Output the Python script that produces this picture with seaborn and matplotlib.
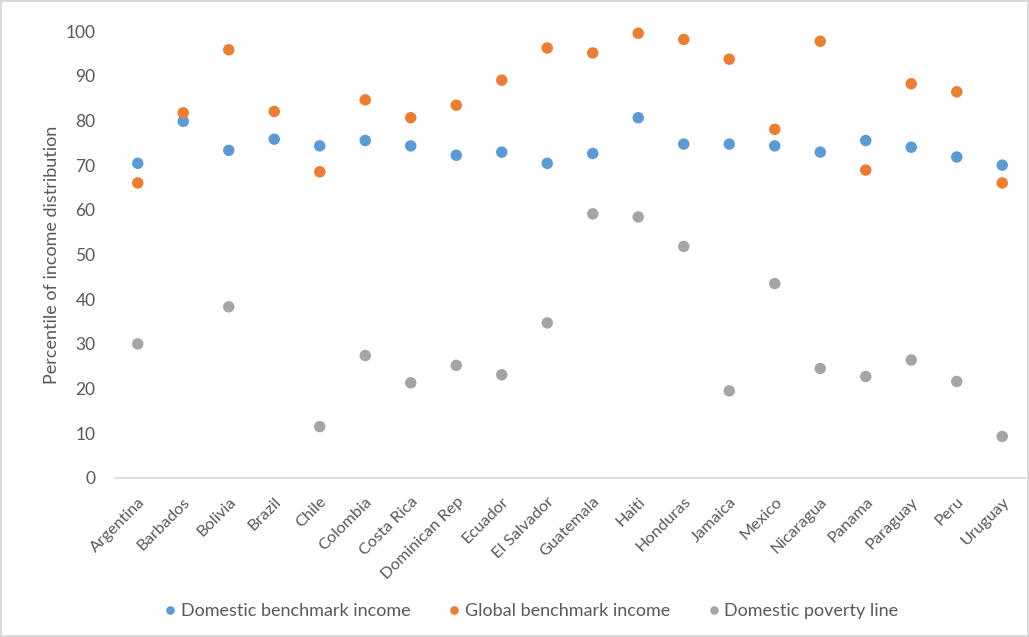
import numpy as np
import pandas as pd
import matplotlib
matplotlib.use("Agg")
import matplotlib.pyplot as plt
import seaborn as sns

countries = ["Argentina", "Barbados", "Bolivia", "Brazil", "Chile", "Colombia",
             "Costa Rica", "Dominican Rep", "Ecuador", "El Salvador", "Guatemala",
             "Haiti", "Honduras", "Jamaica", "Mexico", "Nicaragua", "Panama",
             "Paraguay", "Peru", "Uruguay"]
domestic_benchmark = [70.4, 79.8, 73.3, 75.8, 74.3, 75.5, 74.3, 72.2, 72.9, 70.4,
                      72.6, 80.6, 74.7, 74.7, 74.3, 72.9, 75.5, 74.0, 71.8, 70.0]
global_benchmark = [66.0, 81.7, 95.8, 82.0, 68.5, 84.6, 80.6, 83.4, 89.0, 96.2,
                    95.1, 99.5, 98.1, 93.7, 78.0, 97.7, 68.9, 88.2, 86.4, 66.0]
domestic_poverty = [30.0, np.nan, 38.3, np.nan, 11.5, 27.4, 21.3, 25.2, 23.1, 34.7,
                    59.1, 58.4, 51.8, 19.5, 43.5, 24.5, 22.7, 26.4, 21.6, 9.3]
series_names = ["Domestic benchmark income", "Global benchmark income", "Domestic poverty line"]
y_ticks = [0, 10, 20, 30, 40, 50, 60, 70, 80, 90, 100]

df = pd.concat([
    pd.DataFrame({"country": countries, "value": domestic_benchmark, "series": series_names[0]}),
    pd.DataFrame({"country": countries, "value": global_benchmark, "series": series_names[1]}),
    pd.DataFrame({"country": countries, "value": domestic_poverty, "series": series_names[2]}),
]).dropna()

sns.set_theme(style="white")
plt.rcParams['font.family'] = ['Lato', 'DejaVu Sans']
txt = "#595959"

fig = plt.figure(figsize=(10.29, 6.37), dpi=100)
fig.patch.set_edgecolor("#D9D9D9")
fig.patch.set_linewidth(1.5)
ax = fig.add_axes([115/1029, 1-478/637, (1025-115)/1029, (478-31)/637])

palette = {series_names[0]: "#5B9BD5", series_names[1]: "#ED7D31", series_names[2]: "#A5A5A5"}
sns.scatterplot(data=df, x="country", y="value", hue="series", hue_order=series_names,
                palette=palette, s=68, linewidth=0, ax=ax, legend=True, clip_on=False)

ax.set_xlim(-0.5, len(countries) - 0.5)
ax.set_ylim(0, 100)
ax.set_yticks(y_ticks)
ax.set_yticklabels([str(t) for t in y_ticks], color=txt, fontsize=12.5)
ax.set_xticks(range(len(countries)))
ax.set_xticklabels(countries, rotation=45, ha="right", rotation_mode="anchor",
                   color=txt, fontsize=11.8)
ax.tick_params(axis="both", length=0)
ax.tick_params(axis="y", pad=14)
ax.tick_params(axis="x", pad=12)
ax.set_xlabel("")
ax.set_ylabel("Percentile of income distribution", color=txt, fontsize=13, labelpad=4)
for side in ["top", "right", "left"]:
    ax.spines[side].set_visible(False)
ax.spines["bottom"].set_color("#D9D9D9")
ax.spines["bottom"].set_linewidth(1.2)
ax.grid(False)

handles, labels = ax.get_legend_handles_labels()
ax.legend_.remove()
fig.legend(handles, labels, loc="center", bbox_to_anchor=(530/1029, 1-611/637),
           ncol=3, frameon=False, fontsize=13, labelcolor=txt, markerscale=0.75,
           handletextpad=0.1, columnspacing=1.9, handlelength=1.0)

fig.savefig("out.png", dpi=100, edgecolor=fig.get_edgecolor())
